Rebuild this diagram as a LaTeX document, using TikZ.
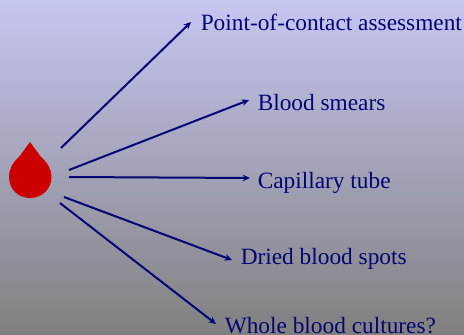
\documentclass[tikz,border=0pt]{standalone}
\usepackage{fontspec}
\setmainfont{Liberation Serif}
\usetikzlibrary{arrows.meta}
\definecolor{navyink}{RGB}{5,5,115}
\definecolor{bgtop}{RGB}{198,198,242}
\definecolor{bgbot}{RGB}{128,128,128}
\definecolor{dropred}{RGB}{204,0,0}
\tikzset{
  label/.style={anchor=base west,inner sep=0pt,text=navyink,font=\fontsize{17.5}{20}\selectfont},
  link/.style={draw=navyink,line width=1.5pt,-{Stealth[length=5.5pt,width=5pt]}}
}
\begin{document}
\begin{tikzpicture}[x=0.75pt,y=-0.75pt]
\useasboundingbox (0,0) rectangle (464,335);
\clip (0,0) rectangle (464,335);
\shade[top color=bgtop,bottom color=bgbot,shading angle=0] (0,0) rectangle (464,335);
\fill[dropred] (30,142) -- (41,157)
  .. controls (47,162) and (51.5,169) .. (51.5,177)
  .. controls (51.5,189) and (42,198) .. (30,198)
  .. controls (18,198) and (9,189) .. (9,177)
  .. controls (9,169) and (13,162) .. (19,157) -- cycle;
\node[label] (a) at (200.5,31) {Point-of-contact assessment};
\node[label] (b) at (257.5,110) {Blood smears};
\node[label] (c) at (257.5,188) {Capillary tube};
\node[label] (d) at (240.5,264) {Dried blood spots};
\node[label] (e) at (224.5,333.5) {Whole blood cultures?};
\coordinate (s1) at (61,148); \coordinate (t1) at (191,22);
\coordinate (s2) at (69,170); \coordinate (t2) at (249,100);
\coordinate (s3) at (69,177); \coordinate (t3) at (250,178);
\coordinate (s4) at (64,197); \coordinate (t4) at (232,260);
\coordinate (s5) at (60,203); \coordinate (t5) at (216,324);
\draw[link] (s1) -- (t1);
\draw[link] (s2) -- (t2);
\draw[link] (s3) -- (t3);
\draw[link] (s4) -- (t4);
\draw[link] (s5) -- (t5);
\end{tikzpicture}
\end{document}
